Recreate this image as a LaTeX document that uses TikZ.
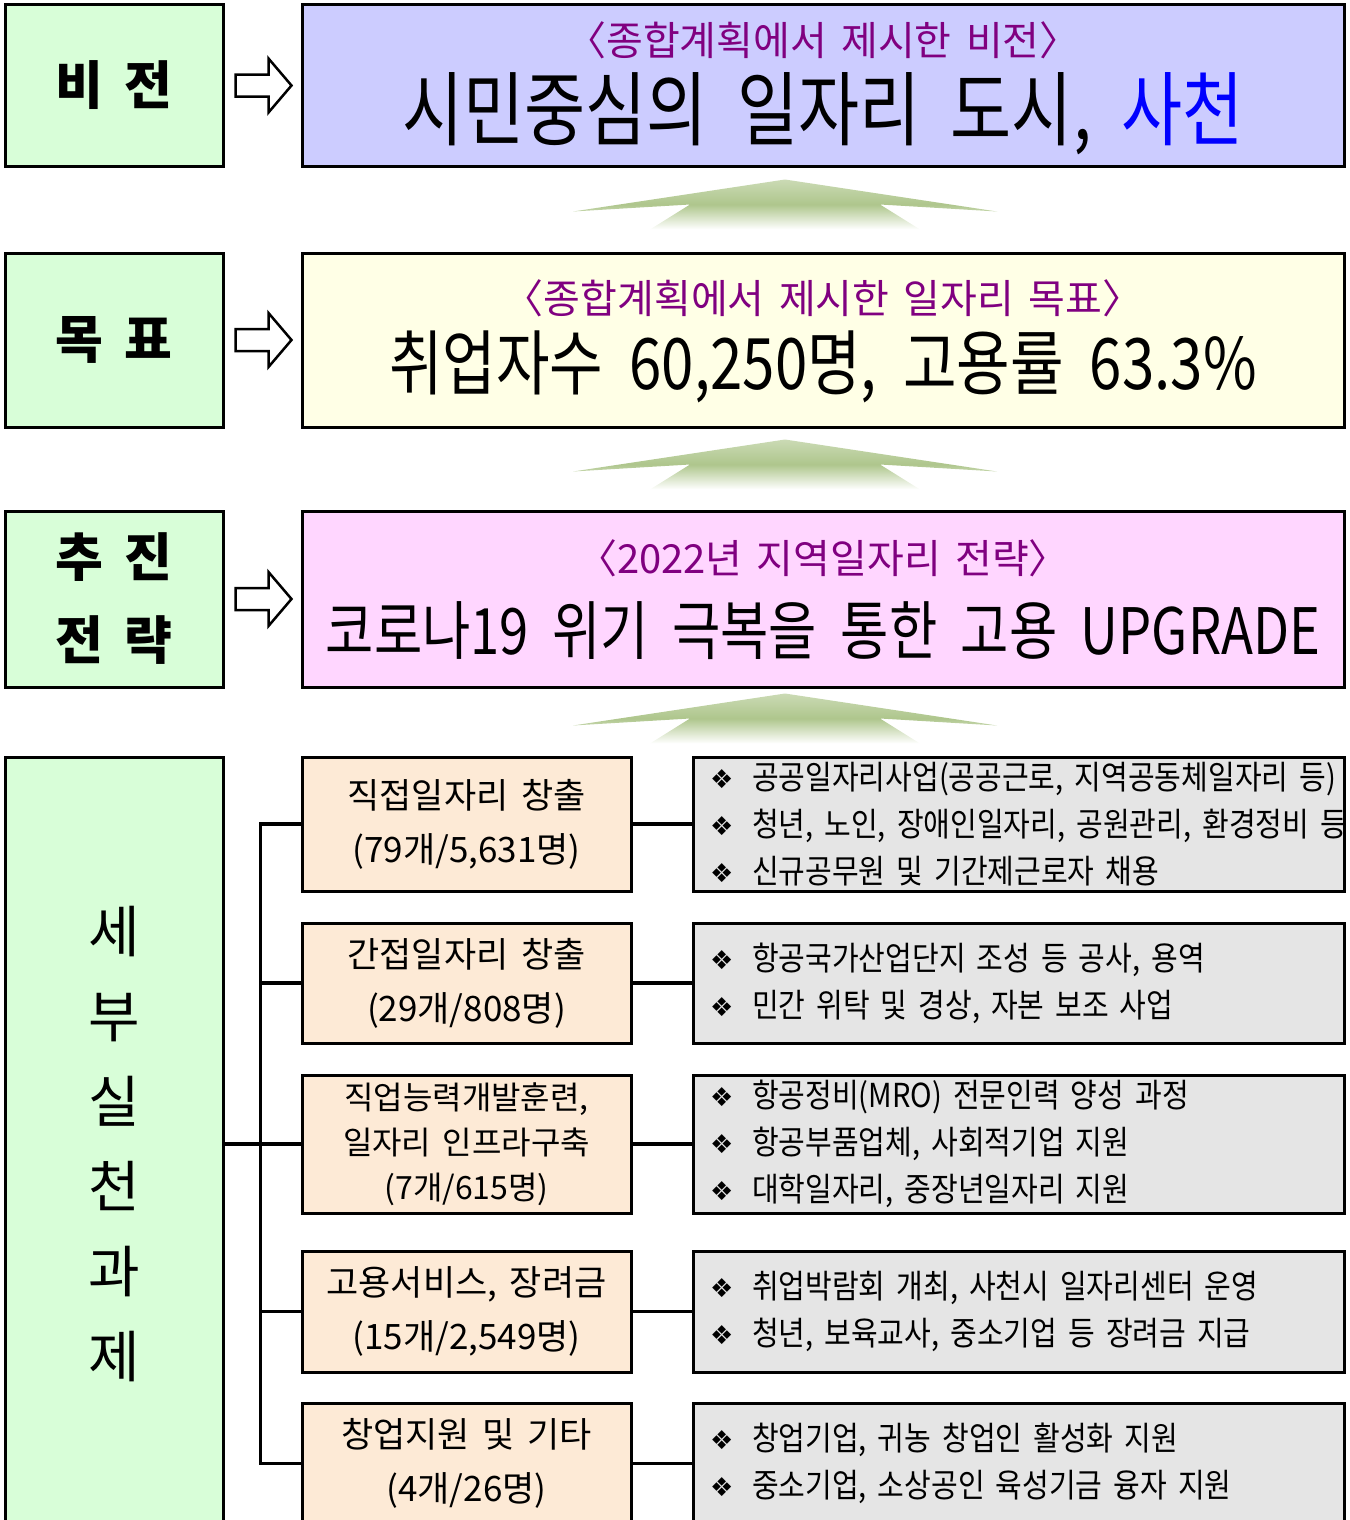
\documentclass[tikz,border=0pt]{standalone}
\usepackage{fontspec}
\setmainfont[WordSpace=1.6]{Noto Sans CJK KR}
\newfontfamily\narrowfont[FakeStretch=0.82,WordSpace=2]{Noto Sans CJK KR}
\newfontfamily\itemfont[FakeStretch=0.88,WordSpace=2]{Noto Sans CJK KR}
\newfontfamily\symfont{DejaVu Sans}
\usepackage{xcolor}
\definecolor{labelgreen}{RGB}{216,254,216}
\definecolor{visionfill}{RGB}{204,204,255}
\definecolor{goalfill}{RGB}{255,255,230}
\definecolor{strategyfill}{RGB}{255,214,255}
\definecolor{taskpeach}{RGB}{253,234,214}
\definecolor{itemgray}{RGB}{229,229,229}
\definecolor{subpurple}{RGB}{128,0,128}
\definecolor{cityblue}{RGB}{0,0,255}
\definecolor{arrowgreen}{RGB}{160,188,120}
\usepackage{tikz}
\newcommand\itm[1]{\mbox{\makebox[42pt][l]{\raisebox{1pt}{\symfont\fontsize{26pt}{26pt}\selectfont ❖}}#1}}

\begin{document}
\begin{tikzpicture}[x=1pt, y=-1pt,
  labelbox/.style={draw, line width=3pt, fill=labelgreen, minimum width=218pt, inner sep=0pt, align=center, font=\bfseries\fontsize{52pt}{83pt}\selectfont},
  mainbox/.style={draw, line width=3pt, minimum width=1042pt, inner sep=0pt},
  subtext/.style={inner sep=0pt, text=subpurple, font=\fontsize{40pt}{40pt}\selectfont},
  titletext/.style={inner sep=0pt, font=\narrowfont\fontsize{#1}{#1}\selectfont},
  taskbox/.style={draw, line width=3pt, fill=taskpeach, minimum width=329pt, inner sep=0pt, align=center, font=\fontsize{35pt}{54pt}\selectfont},
  itembox/.style={draw, line width=3pt, fill=itemgray, minimum width=651pt, inner xsep=17pt, inner ysep=0pt, text width=617pt, align=left, font=\itemfont\fontsize{33pt}{47pt}\selectfont},
  joinline/.style={line width=3.5pt},
  hollowarrow/.pic={\draw[line width=2.5pt, fill=white] (0,-11) -- (33,-11) -- (33,-27) -- (56,0) -- (33,27) -- (33,11) -- (0,11) -- cycle;},
  uparrow/.pic={\shade[top color=arrowgreen!55, bottom color=white, middle color=arrowgreen!85] (0,0) -- (212,32) -- (95,25) -- (135,50) -- (-135,50) -- (-95,25) -- (-212,32) -- cycle;}]
\useasboundingbox (0,0) rectangle (1349,1520);
\clip (0,0) rectangle (1349,1520);

\node[labelbox, minimum height=161pt] (lblvision) at (114,85.5) {비\hspace{22pt}전};
\node[labelbox, minimum height=174pt] (lblgoal) at (114,340) {목\hspace{22pt}표};
\node[labelbox, minimum height=176pt] (lblstrategy) at (114,599) {추\hspace{22pt}진\\전\hspace{22pt}략};
\node[labelbox, minimum height=774pt, font=\fontsize{56pt}{85pt}\selectfont] (lbltasks) at (114,1144) {세\\부\\실\\천\\과\\제};

\node[mainbox, fill=visionfill, minimum height=161pt] (vision) at (823,85.5) {};
\node[subtext] (visionsub) at ([yshift=-37pt]vision.north) {〈종합계획에서 제시한 비전〉};
\node[titletext=81pt] (visiontitle) at ([yshift=-110pt]vision.north) {시민중심의 일자리 도시, \textcolor{cityblue}{사천}};

\node[mainbox, fill=goalfill, minimum height=174pt] (goal) at (823,340) {};
\node[subtext] (goalsub) at ([yshift=-47pt]goal.north) {〈종합계획에서 제시한 일자리 목표〉};
\node[titletext=71pt] (goaltitle) at ([yshift=-115pt]goal.north) {취업자수 60,250명, 고용률 63.3\%};

\node[mainbox, fill=strategyfill, minimum height=176pt] (strategy) at (823,599) {};
\node[subtext] (strategysub) at ([yshift=-49pt]strategy.north) {〈2022년 지역일자리 전략〉};
\node[titletext=64pt] (strategytitle) at ([yshift=-121pt]strategy.north) {코로나19 위기 극복을 통한 고용 UPGRADE};

\pic at ([xshift=11pt]lblvision.east) {hollowarrow};
\pic at ([xshift=11pt]lblgoal.east) {hollowarrow};
\pic at ([xshift=11pt]lblstrategy.east) {hollowarrow};

\pic at ([xshift=-38pt,yshift=-12pt]vision.south) {uparrow};
\pic at ([xshift=-38pt,yshift=-11pt]goal.south) {uparrow};
\pic at ([xshift=-38pt,yshift=-5pt]strategy.south) {uparrow};

\node[taskbox, minimum height=134pt] (task1) at (466.5,824) {직접일자리 창출\\(79개/5,631명)};
\node[taskbox, minimum height=120pt] (task2) at (466.5,983) {간접일자리 창출\\(29개/808명)};
\node[taskbox, minimum height=138pt, font=\fontsize{32pt}{45pt}\selectfont] (task3) at (466.5,1144) {직업능력개발훈련,\\일자리 인프라구축\\(7개/615명)};
\node[taskbox, minimum height=121pt] (task4) at (466.5,1311.5) {고용서비스, 장려금\\(15개/2,549명)};
\node[taskbox, minimum height=121pt] (task5) at (466.5,1463.5) {창업지원 및 기타\\(4개/26명)};

\node[itembox, minimum height=134pt] (item1) at (1018.5,824) {\itm{공공일자리사업(공공근로, 지역공동체일자리 등)}\\\itm{청년, 노인, 장애인일자리, 공원관리, 환경정비 등}\\\itm{신규공무원 및 기간제근로자 채용}};
\node[itembox, minimum height=120pt] (item2) at (1018.5,983) {\itm{항공국가산업단지 조성 등 공사, 용역}\\\itm{민간 위탁 및 경상, 자본 보조 사업}};
\node[itembox, minimum height=138pt] (item3) at (1018.5,1144) {\itm{항공정비(MRO) 전문인력 양성 과정}\\\itm{항공부품업체, 사회적기업 지원}\\\itm{대학일자리, 중장년일자리 지원}};
\node[itembox, minimum height=121pt] (item4) at (1018.5,1311.5) {\itm{취업박람회 개최, 사천시 일자리센터 운영}\\\itm{청년, 보육교사, 중소기업 등 장려금 지급}};
\node[itembox, minimum height=121pt] (item5) at (1018.5,1463.5) {\itm{창업기업, 귀농 창업인 활성화 지원}\\\itm{중소기업, 소상공인 육성기금 융자 지원}};

\draw[joinline] (task1.west) -- ++(-40,0) |- (task5.west);
\draw[joinline] (task2.west) -- ++(-40,0);
\draw[joinline] (task4.west) -- ++(-40,0);
\draw[joinline] (lbltasks.east) -- (task3.west);
\foreach \i in {1,...,5}
  \draw[joinline] (task\i.east) -- (item\i.west);
\end{tikzpicture}
\end{document}
